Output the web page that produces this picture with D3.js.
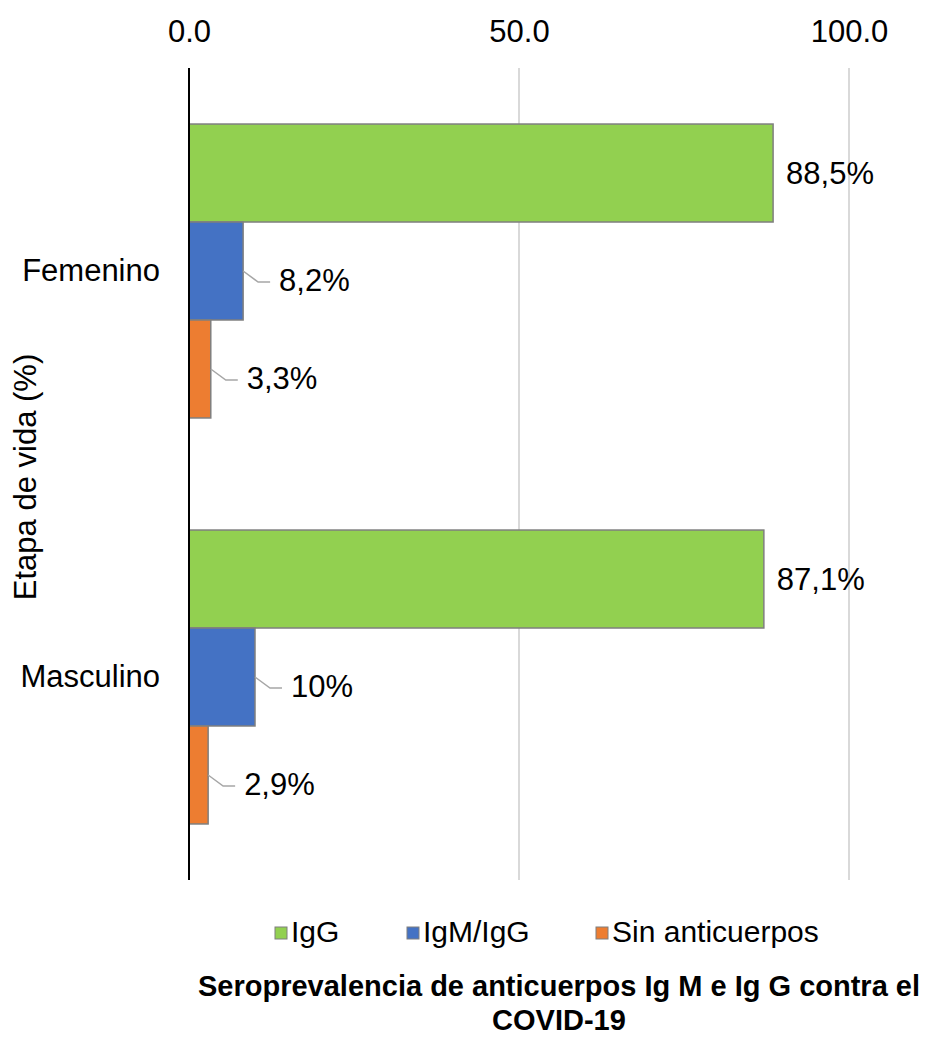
<!DOCTYPE html>
<html>
<head>
<meta charset="utf-8">
<script src="https://cdn.jsdelivr.net/npm/d3@7"></script>
<style>
  html, body { margin: 0; padding: 0; background: #fff; }
  svg { display: block; font-family: "Liberation Sans", Arial, sans-serif; }
</style>
</head>
<body>
<svg id="chart" width="930" height="1037"></svg>
<script>
// Categories (top to bottom) and series
const categories = ["Femenino", "Masculino"];
const seriesNames = ["IgG", "IgM/IgG", "Sin anticuerpos"];
const igG = [88.5, 87.1];
const igMigG = [8.2, 10];
const sinAnticuerpos = [3.3, 2.9];
const labelIgG = ["88,5%", "87,1%"];
const labelIgMigG = ["8,2%", "10%"];
const labelSin = ["3,3%", "2,9%"];
const xTicks = [0, 50, 100];
const seriesColors = ["#92D050", "#4472C4", "#ED7D31"];

const seriesValues = [igG, igMigG, sinAnticuerpos];
const seriesLabels = [labelIgG, labelIgMigG, labelSin];

const svg = d3.select("#chart");
const plotLeft = 189, plotRight = 849, plotTop = 68, plotBottom = 880;
const fontSize = 31;

const x = d3.scaleLinear().domain([0, 100]).range([plotLeft, plotRight]);
const y0 = d3.scaleBand().domain(categories).range([plotTop, plotBottom])
  .paddingInner(0.276).paddingOuter(0.138);
const y1 = d3.scaleBand().domain(seriesNames).range([0, y0.bandwidth()]);

// Vertical gridlines
svg.append("g").selectAll("line").data(xTicks.filter(t => t > 0)).join("line")
  .attr("x1", d => x(d)).attr("x2", d => x(d))
  .attr("y1", plotTop).attr("y2", plotBottom)
  .attr("stroke", "#d9d9d9").attr("stroke-width", 2);

// Top value axis (labels only)
const xAxis = svg.append("g").attr("transform", `translate(0,${plotTop})`)
  .call(d3.axisTop(x).tickValues(xTicks).tickFormat(d3.format(".1f")).tickSize(0).tickPadding(26));
xAxis.select(".domain").remove();
xAxis.selectAll("text").attr("font-size", fontSize).attr("fill", "#000")
  .attr("font-family", "Liberation Sans, Arial, sans-serif");

// Bars
const rows = [];
categories.forEach((c, ci) => {
  seriesNames.forEach((s, si) => {
    rows.push({ cat: c, ser: s, si, value: seriesValues[si][ci], label: seriesLabels[si][ci] });
  });
});

const barG = svg.append("g");
barG.selectAll("rect").data(rows).join("rect")
  .attr("x", x(0))
  .attr("y", d => y0(d.cat) + y1(d.ser))
  .attr("width", d => x(d.value) - x(0))
  .attr("height", y1.bandwidth())
  .attr("fill", d => seriesColors[d.si])
  .attr("stroke", "#7f7f7f").attr("stroke-width", 1.5);

// Data labels with leader lines for the short bars
const lblG = svg.append("g");
rows.forEach(d => {
  const xe = x(d.value);
  const yc = y0(d.cat) + y1(d.ser) + y1.bandwidth() / 2;
  if (d.si === 0) {
    lblG.append("text").attr("x", xe + 13).attr("y", yc + 3)
      .attr("dominant-baseline", "middle")
      .attr("font-size", fontSize).attr("fill", "#000").text(d.label);
  } else {
    const dy = 11;
    lblG.append("polyline")
      .attr("points", `${xe},${yc} ${xe + 15},${yc + dy} ${xe + 27},${yc + dy}`)
      .attr("fill", "none").attr("stroke", "#a6a6a6").attr("stroke-width", 1.5);
    lblG.append("text").attr("x", xe + 36).attr("y", yc + dy + 1)
      .attr("dominant-baseline", "middle")
      .attr("font-size", fontSize).attr("fill", "#000").text(d.label);
  }
});

// Category axis
const yAxis = svg.append("g").attr("transform", `translate(${plotLeft},0)`)
  .call(d3.axisLeft(y0).tickSize(0).tickPadding(29));
yAxis.select(".domain").attr("stroke", "#000").attr("stroke-width", 2)
  .attr("d", `M0,${plotTop}V${plotBottom}`);
yAxis.selectAll("text").attr("font-size", fontSize).attr("fill", "#000")
  .attr("font-family", "Liberation Sans, Arial, sans-serif");

// Axis title
svg.append("text")
  .attr("transform", "translate(28,477) rotate(-90)")
  .attr("text-anchor", "middle").attr("dominant-baseline", "middle")
  .attr("font-size", fontSize).attr("fill", "#000").text("Etapa de vida (%)");

// Legend
const legendX = [275, 407, 596];
const lg = svg.append("g");
seriesNames.forEach((s, i) => {
  lg.append("rect").attr("x", legendX[i]).attr("y", 927).attr("width", 12).attr("height", 12)
    .attr("fill", seriesColors[i]).attr("stroke", "#7f7f7f").attr("stroke-width", 1);
  lg.append("text").attr("x", legendX[i] + 16).attr("y", 934)
    .attr("dominant-baseline", "middle")
    .attr("font-size", 30).attr("fill", "#000").text(s);
});

// Chart title
const title = svg.append("text").attr("text-anchor", "middle")
  .attr("font-size", 29).attr("font-weight", "bold").attr("fill", "#000");
title.append("tspan").attr("x", 559).attr("y", 996)
  .text("Seroprevalencia de anticuerpos Ig M e Ig G contra el");
title.append("tspan").attr("x", 559).attr("y", 1030).text("COVID-19");
</script>
</body>
</html>
